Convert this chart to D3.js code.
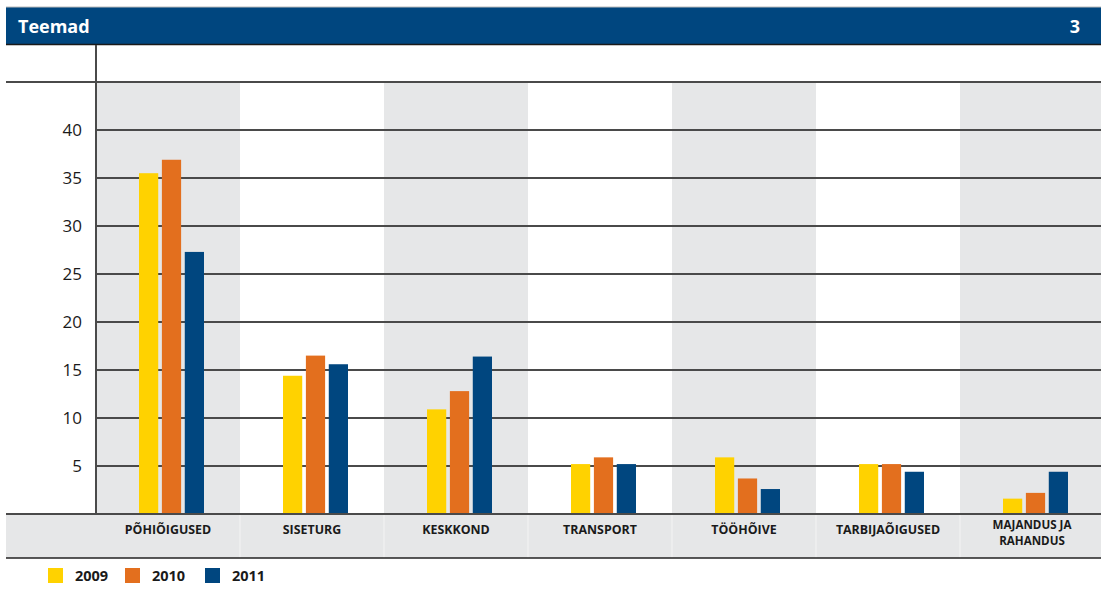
<!DOCTYPE html>
<html><head><meta charset="utf-8">
<script src="https://cdn.jsdelivr.net/npm/d3@7"></script>
<style>body{margin:0;background:#fff}svg{display:block}</style>
</head><body><svg id="c" width="1101" height="589"></svg>
<script>
const categories = ["PÕHIÕIGUSED","SISETURG","KESKKOND","TRANSPORT","TÖÖHÕIVE","TARBIJAÕIGUSED","MAJANDUS JA|RAHANDUS"];
const years = ["2009","2010","2011"];
const v2009 = [35.5,14.4,10.9,5.2,5.9,5.2,1.6];
const v2010 = [36.9,16.5,12.8,5.9,3.7,5.2,2.2];
const v2011 = [27.3,15.6,16.4,5.2,2.6,4.4,4.4];
const yTicks = [5,10,15,20,25,30,35,40];
const colors = ["#FFD200","#E36F1E","#00467F"];
const series = [v2009,v2010,v2011];

const svg = d3.select("#c");
const font = "'Open Sans', sans-serif";
const x0 = d3.scaleBand().domain(categories).range([96,1104]).padding(0);
const x1 = d3.scaleBand().domain(years).range([43,108]).paddingInner(0.16);
const y = d3.scaleLinear().domain([0,45]).range([514,82]);
const color = d3.scaleOrdinal().domain(years).range(colors);

// header
svg.append("rect").attr("x",6).attr("y",7).attr("width",1095).attr("height",37).attr("fill","#00467F");
svg.append("line").attr("x1",6).attr("x2",1101).attr("y1",7).attr("y2",7).attr("stroke","#bbb").attr("stroke-width",1);
svg.append("line").attr("x1",6).attr("x2",1101).attr("y1",44.5).attr("y2",44.5).attr("stroke","#1a1a1a").attr("stroke-width",1.5);
svg.append("text").attr("x",18).attr("y",33).attr("fill","#fff").attr("font-family",font).attr("font-weight","bold").attr("font-size",18).text("Teemad");
svg.append("text").attr("x",1080).attr("y",33).attr("text-anchor","end").attr("fill","#fff").attr("font-family",font).attr("font-weight","bold").attr("font-size",18).text("3");

// bands
categories.forEach((c,i)=>{
  svg.append("rect").attr("x",x0(c)).attr("y",y(45)).attr("width",x0.bandwidth()).attr("height",y(0)-y(45))
    .attr("fill", i%2===0 ? "#E6E7E8" : "#fff");
});
// label band
svg.append("rect").attr("x",6).attr("y",y(0)).attr("width",1095).attr("height",44).attr("fill","#E6E7E8");
categories.slice(1).forEach(c=>{
  svg.append("line").attr("x1",x0(c)).attr("x2",x0(c)).attr("y1",y(0)).attr("y2",558).attr("stroke","#f4f4f4").attr("stroke-width",1);
});
svg.append("line").attr("x1",6).attr("x2",1101).attr("y1",558).attr("y2",558).attr("stroke","#222").attr("stroke-width",1.5);

// gridlines
svg.append("line").attr("x1",6).attr("x2",1101).attr("y1",y(45)).attr("y2",y(45)).attr("stroke","#4a4a4a").attr("stroke-width",2);
yTicks.forEach(t=>{
  svg.append("line").attr("x1",96).attr("x2",1101).attr("y1",y(t)).attr("y2",y(t)).attr("stroke","#4a4a4a").attr("stroke-width",2);
});

// bars
categories.forEach((c,i)=>{
  years.forEach((yr,j)=>{
    const v = series[j][i];
    svg.append("rect").attr("x",x0(c)+x1(yr)).attr("y",y(v)).attr("width",x1.bandwidth()).attr("height",y(0)-y(v)).attr("fill",color(yr));
  });
});

// axis lines
svg.append("line").attr("x1",96).attr("x2",96).attr("y1",45).attr("y2",y(0)).attr("stroke","#4a4a4a").attr("stroke-width",2);
svg.append("line").attr("x1",6).attr("x2",1101).attr("y1",y(0)).attr("y2",y(0)).attr("stroke","#4a4a4a").attr("stroke-width",2);

// y labels
const yAxis = svg.append("g").attr("transform","translate(82,0)")
  .call(d3.axisLeft(y).tickValues(yTicks).tickSize(0).tickPadding(0));
yAxis.select(".domain").remove();
yAxis.selectAll("text").attr("font-family",font).attr("font-size",17).attr("fill","#1a1a1a").attr("dy","0.35em");

// category labels
categories.forEach(c=>{
  const lines = c.split("|");
  const cx = x0(c)+x0.bandwidth()/2;
  const multi = lines.length > 1;
  lines.forEach((l,k)=>{
    svg.append("text").attr("x",cx).attr("y",(multi?529:534)+k*16).attr("text-anchor","middle")
      .attr("font-family",font).attr("font-weight","bold").attr("font-size",multi?11.6:12.4).attr("fill","#1a1a1a").text(l);
  });
});

// legend
const lx = [48,125,205];
years.forEach((yr,j)=>{
  svg.append("rect").attr("x",lx[j]).attr("y",568).attr("width",15).attr("height",15).attr("fill",color(yr));
  svg.append("text").attr("x",lx[j]+27).attr("y",581).attr("font-family",font).attr("font-weight","bold").attr("font-size",14.5).attr("fill","#1a1a1a").text(yr);
});
</script></body></html>
